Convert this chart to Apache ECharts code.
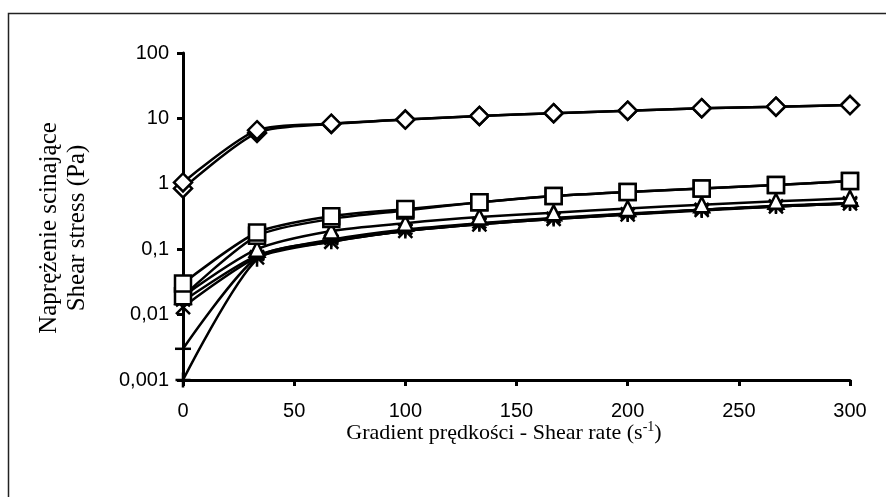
<!DOCTYPE html>
<html>
<head>
<meta charset="utf-8">
<script src="https://cdn.jsdelivr.net/npm/echarts@6/dist/echarts.min.js"></script>
<style>
  html, body { margin: 0; padding: 0; background: #fff; }
  #chart { width: 886px; height: 497px; }
</style>
</head>
<body>
<div id="chart"></div>
<script>
// shear rate (s-1)
const shearRate = [0, 33.3, 66.7, 100, 133.3, 166.7, 200, 233.3, 266.7, 300];
const xTicks = [0, 50, 100, 150, 200, 250, 300];
const yTickLabels = ["0,001", "0,01", "0,1", "1", "10", "100"];

// shear stress (Pa), one array per sample
const diamondA = [1.05, 6.6, 8.3, 9.6, 10.9, 12.0, 13.1, 14.3, 15.1, 16.0];
const diamondB = [0.85, 6.0, 8.2, 9.6, 10.9, 12.0, 13.1, 14.3, 15.1, 16.0];
const squareA = [0.030, 0.18, 0.32, 0.41, 0.52, 0.65, 0.75, 0.85, 0.96, 1.10];
const squareB = [0.019, 0.16, 0.29, 0.39, 0.52, 0.65, 0.75, 0.85, 0.96, 1.10];
const triangle = [0.019, 0.10, 0.19, 0.25, 0.31, 0.36, 0.42, 0.48, 0.54, 0.60];
const star = [0.016, 0.08, 0.14, 0.20, 0.25, 0.30, 0.35, 0.40, 0.46, 0.51];
const cross = [0.013, 0.075, 0.13, 0.19, 0.24, 0.29, 0.34, 0.40, 0.45, 0.50];
const dash = [0.003, 0.075, 0.135, 0.19, 0.245, 0.295, 0.345, 0.40, 0.45, 0.50];
const plus = [0.001, 0.07, 0.13, 0.19, 0.24, 0.29, 0.34, 0.39, 0.45, 0.50];

const hollow = { color: "#fff", borderColor: "#000", borderWidth: 2.5 };
const stroked = { color: "#000", borderColor: "#000", borderWidth: 2.5 };

function makeSeries(name, values, symbol, size, itemStyle) {
  return {
    name: name,
    type: "line",
    smooth: 0.25,
    data: values.map((v, i) => [shearRate[i], v]),
    symbol: symbol,
    symbolSize: size,
    showAllSymbol: true,
    lineStyle: { color: "#000", width: 2.5 },
    itemStyle: itemStyle,
    emphasis: { disabled: true },
  };
}

const series = [
  makeSeries("plus", plus, "path://M0,5L10,5M5,0L5,10", 15, stroked),
  makeSeries("dash", dash, "rect", [16, 2.5], { color: "#000" }),
  makeSeries("cross", cross, "path://M0,0L10,10M10,0L0,10", 14, stroked),
  makeSeries("star", star, "path://M0,0L10,10M10,0L0,10M5,-2L5,12", 14, stroked),
  makeSeries("triangle", triangle, "triangle", 15, hollow),
  makeSeries("squareB", squareB, "rect", 16, hollow),
  makeSeries("squareA", squareA, "rect", 16, hollow),
  makeSeries("diamondB", diamondB, "diamond", 18, hollow),
  makeSeries("diamondA", diamondA, "diamond", 18, hollow),
];

const chart = echarts.init(document.getElementById("chart"));
chart.setOption({
  animation: false,
  backgroundColor: "#fff",
  grid: { left: 183, right: 36, top: 53, bottom: 117 },
  xAxis: {
    type: "value",
    min: 0,
    max: 300,
    interval: 50,
    axisLine: { lineStyle: { color: "#000", width: 3 } },
    axisTick: { length: 6, lineStyle: { color: "#000", width: 3 } },
    axisLabel: {
      margin: 21,
      color: "#000",
      fontFamily: "Liberation Sans, Arial",
      fontSize: 20,
      formatter: (v) => (xTicks.indexOf(v) >= 0 ? String(v) : ""),
    },
    splitLine: { show: false },
  },
  yAxis: {
    type: "log",
    logBase: 10,
    min: 0.001,
    max: 100,
    axisLine: { show: true, lineStyle: { color: "#000", width: 3 } },
    axisTick: { show: true, length: 6, lineStyle: { color: "#000", width: 3 } },
    axisLabel: {
      margin: 14,
      color: "#000",
      fontFamily: "Liberation Sans, Arial",
      fontSize: 20,
      formatter: (v, i) => yTickLabels[i] || "",
    },
    splitLine: { show: false },
    minorTick: { show: false },
  },
  graphic: [
    {
      type: "rect",
      shape: { x: 8.5, y: 13.5, width: 900, height: 500 },
      style: { fill: null, stroke: "#222", lineWidth: 1.5 },
      silent: true,
    },
    {
      type: "text",
      x: 63,
      y: 228,
      rotation: Math.PI / 2,
      style: {
        text: "Naprężenie scinające\nShear stress (Pa)",
        fontFamily: "Liberation Serif, Times New Roman",
        fontSize: 25,
        lineHeight: 28,
        fill: "#000",
        align: "center",
        verticalAlign: "middle",
      },
    },
    {
      type: "text",
      x: 504,
      y: 433,
      style: {
        text: "Gradient prędkości - Shear rate (s{sup|-1})",
        rich: {
          sup: {
            fontFamily: "Liberation Serif, Times New Roman",
            fontSize: 14,
            verticalAlign: "top",
            padding: [0, 0, 12, 0],
          },
        },
        fontFamily: "Liberation Serif, Times New Roman",
        fontSize: 22,
        fill: "#000",
        align: "center",
        verticalAlign: "middle",
      },
    },
  ],
  series: series,
});
</script>
</body>
</html>
